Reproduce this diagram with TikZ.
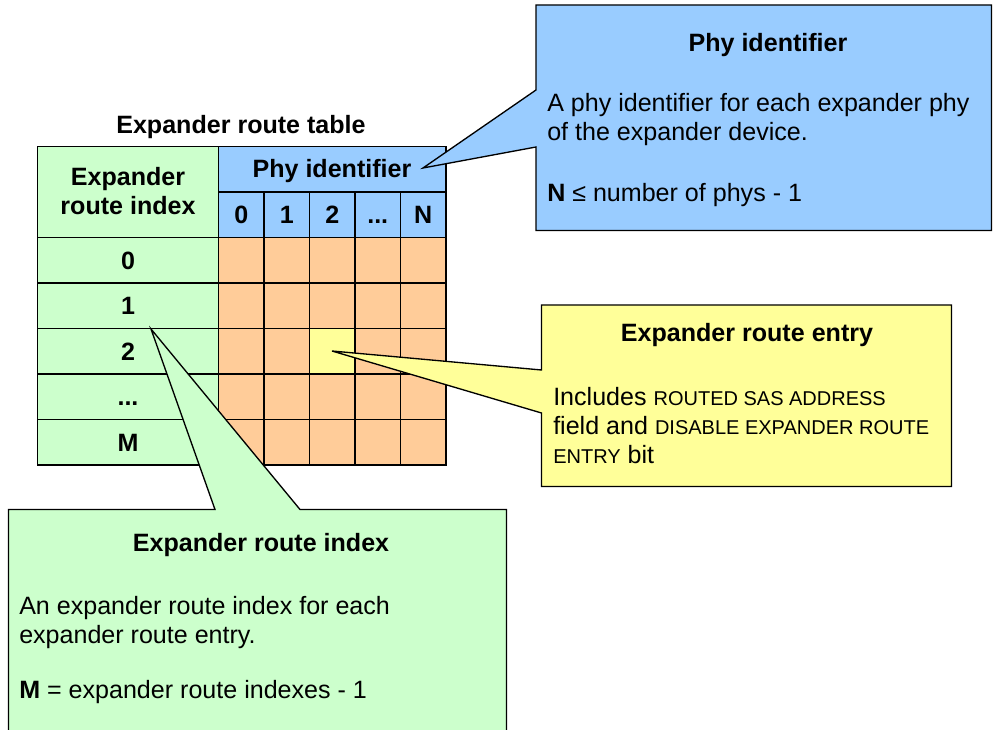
\documentclass[tikz,border=0pt]{standalone}
\usepackage{fontspec}
\setmainfont{Liberation Sans}

\definecolor{idxgreen}{HTML}{CCFFCC}
\definecolor{phyblue}{HTML}{99CCFF}
\definecolor{cellorange}{HTML}{FFCC99}
\definecolor{entryyellow}{HTML}{FFFF99}

\newcommand{\capsword}[1]{{\fontsize{15}{21.75}\selectfont #1}}

\begin{document}
\begin{tikzpicture}[x=0.75pt,y=-0.75pt,
    txt/.style={font=\fontsize{18.8}{21.75}\selectfont, inner sep=0pt},
    bold/.style={font=\fontsize{18.8}{21.75}\selectfont\bfseries, inner sep=0pt},
    cellnum/.style={bold, text height=13.5pt, text depth=0pt},
    gridline/.style={line width=1.2pt},
    callout/.style={draw=black, line width=1pt, line join=miter}]
    \useasboundingbox (0,0) rectangle (993,730);

    % route table
    \fill[idxgreen] (37.5,146.5) rectangle (218.5,465);
    \fill[phyblue] (218.5,146.5) rectangle (446,237.5);
    \fill[cellorange] (218.5,237.5) rectangle (446,465);
    \fill[entryyellow] (309.5,328.5) rectangle (355,374);
    \draw[gridline] (37.5,146.5) rectangle (446,465);
    \draw[gridline] (218.5,146.5) -- (218.5,465);
    \draw[gridline] (218.5,192) -- (446,192);
    \draw[gridline] (264,192) -- (264,465);
    \draw[gridline] (309.5,192) -- (309.5,465);
    \draw[gridline] (355,192) -- (355,465);
    \draw[gridline] (400.5,192) -- (400.5,465);
    \draw[gridline] (37.5,237.5) -- (446,237.5);
    \draw[gridline] (37.5,283) -- (446,283);
    \draw[gridline] (37.5,328.5) -- (446,328.5);
    \draw[gridline] (37.5,374) -- (446,374);
    \draw[gridline] (37.5,419.5) -- (446,419.5);

    \node[bold,anchor=base] (tabletitle) at (241,134) {Expander route table};
    \node[bold,align=center,anchor=base] (idxhead) at (128,215) {Expander\\route index};
    \node[bold,anchor=base] (phyhead) at (332,178) {Phy identifier};

    \node[cellnum] (phy0) at (241.25,214.75) {0};
    \node[cellnum] (phy1) at (286.75,214.75) {1};
    \node[cellnum] (phy2) at (332.25,214.75) {2};
    \node[cellnum] (phydots) at (377.75,214.75) {...};
    \node[cellnum] (phyN) at (423.25,214.75) {N};

    \node[cellnum] (idx0) at (128,260.25) {0};
    \node[cellnum] (idx1) at (128,305.75) {1};
    \node[cellnum] (idx2) at (128,351.25) {2};
    \node[cellnum] (idxdots) at (128,396.75) {...};
    \node[cellnum] (idxM) at (128,442.25) {M};

    \coordinate (phytip) at (423,168);
    \coordinate (entrytip) at (332,351);
    \coordinate (idxtip) at (151,329);

    % callouts
    \draw[callout,fill=phyblue] (536,5) -- (991.5,5) -- (991.5,230.5) -- (536,230.5)
        -- (536,147) -- (phytip) -- (536,90) -- cycle;
    \draw[callout,fill=entryyellow] (541.5,305) -- (951.5,305) -- (951.5,486.5) -- (541.5,486.5)
        -- (541.5,413) -- (entrytip) -- (541.5,370) -- cycle;
    \draw[callout,fill=idxgreen] (8.5,509.5) -- (215,509.5) -- (idxtip) -- (300,509.5)
        -- (506.5,509.5) -- (506.5,745) -- (8.5,745) -- cycle;

    \node[bold,anchor=base] (phytitle) at (768,52) {Phy identifier};
    \node[txt,align=left,anchor=base west] (phytext) at (547,202)
        {A phy identifier for each expander phy\\of the expander device.\\[24pt]\textbf{N} ≤ number of phys - 1};

    \node[bold,anchor=base] (entrytitle) at (747,342) {Expander route entry};
    \node[txt,align=left,anchor=base west] (entrytext) at (553,464)
        {Includes \capsword{ROUTED SAS ADDRESS}\\field and \capsword{DISABLE EXPANDER ROUTE}\\\capsword{ENTRY} bit};

    \node[bold,anchor=base] (idxtitle) at (261,552) {Expander route index};
    \node[txt,align=left,anchor=base west] (idxtext) at (19,699)
        {An expander route index for each\\expander route entry.\\[20pt]\textbf{M} = expander route indexes - 1};
\end{tikzpicture}
\end{document}
